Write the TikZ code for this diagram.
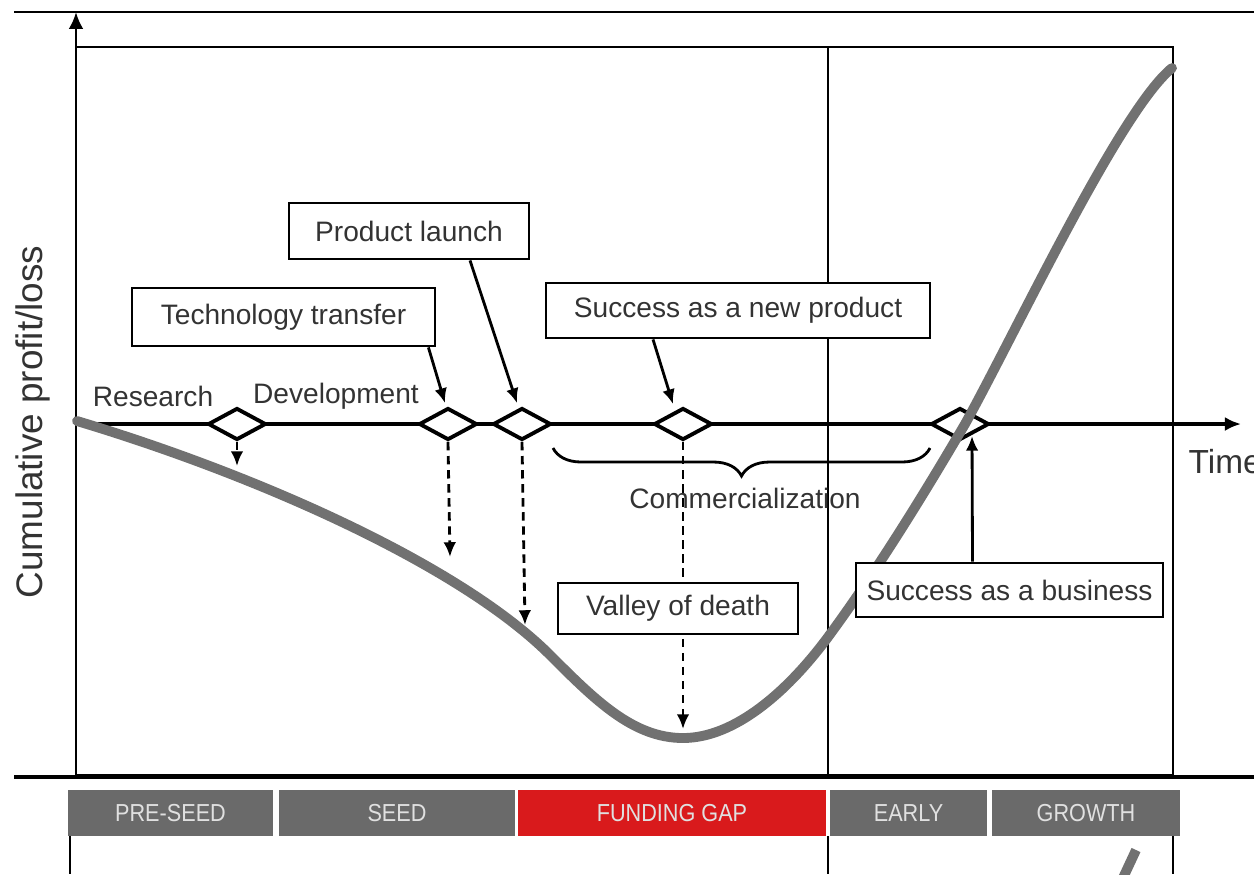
\documentclass[tikz,border=0pt]{standalone}
\usepackage{fontspec}
\setmainfont{Liberation Sans}
\newfontfamily\stagefont[FakeStretch=0.88]{Liberation Sans}
\usepackage{xcolor}
\usepackage{tikz}
\usetikzlibrary{arrows,arrows.meta}
\usetikzlibrary{shapes,positioning,calc,decorations.pathreplacing}
\definecolor{StageGray}{HTML}{6A6A6A}
\definecolor{GapRed}{HTML}{D91A1C}
\definecolor{CurveGray}{HTML}{717171}

\begin{document}
\begin{tikzpicture}[>={Latex[length=4.2pt,width=3.6pt]},
		labelbox/.style={draw, fill=white, line width=0.8pt, inner sep=0pt, text=black!80, font=\fontsize{8}{9.6}\selectfont},
		milestone/.style={diamond, draw, fill=white, line width=1.1pt, minimum width=0.58cm, minimum height=0.32cm, inner sep=0pt},
		stage/.style={fill=StageGray, minimum height=0.46cm, inner sep=0pt, text=white!88!black, font=\stagefont\fontsize{7}{8.4}\selectfont},
		dasharrow/.style={->, line width=0.8pt, dash pattern=on 2.4pt off 1.6pt},
		plain/.style={text=black!80, font=\fontsize{8}{9.6}\selectfont}]
			\useasboundingbox (0,0) rectangle (12.54,-8.74);
			% frame and axes
			\draw[line width=0.8pt] (0.14,-0.12) -- (12.54,-0.12);
			\draw[line width=0.8pt] (0.76,-0.47) rectangle (11.73,-7.75);
			\draw[line width=0.7pt] (8.28,-0.47) -- (8.28,-7.75);
			\draw[line width=1.3pt] (0.14,-7.77) -- (12.54,-7.77);
			\draw[-{Latex[length=4.8pt,width=4.2pt]}, line width=0.8pt] (0.76,-7.75) -- (0.76,-0.12);
			\draw[-{Latex[length=4.6pt,width=4pt]}, line width=0.9pt] (0.76,-4.24) -- (12.41,-4.24);
			\node[rotate=90, text=black!80, font=\fontsize{10.5}{12}\selectfont] (ylab) at (0.33,-4.22) {Cumulative profit/loss};
			\node[anchor=west, inner sep=0pt, text=black!80, font=\fontsize{9.5}{11}\selectfont] (time) at (11.88,-4.62) {Time};
			\node[plain] (research) at (1.53,-3.96) {Research};
			\node[plain] (develop) at (3.36,-3.96) {Development};
			% milestones
			\node[milestone] (d1) at (2.37,-4.24) {};
			\node[milestone] (d2) at (4.48,-4.24) {};
			\node[milestone] (d3) at (5.22,-4.24) {};
			\node[milestone] (d4) at (6.83,-4.24) {};
			\node[milestone] (d5) at (9.60,-4.24) {};
			% cumulative curve
			\draw[CurveGray, line width=2.8pt, line cap=round] (0.77,-4.21) .. controls (2.57,-4.75) and (4.6,-5.65) .. (5.5,-6.55)
				.. controls (5.95,-7.0) and (6.33,-7.38) .. (6.83,-7.38)
				.. controls (7.35,-7.38) and (7.88,-6.91) .. (8.28,-6.37)
				.. controls (8.73,-5.76) and (9.2,-5.01) .. (9.65,-4.24)
				.. controls (10.15,-3.34) and (11.2,-1.1) .. (11.72,-0.68);
			% dashed drops
			\coordinate (c1) at (2.37,-4.66);
			\coordinate (c2) at (4.50,-5.57);
			\coordinate (c3) at (5.25,-6.25);
			\coordinate (c4) at (6.83,-7.29);
			\draw[dasharrow] (d1.south) -- (c1);
			\draw[dasharrow] (d2.south) -- (c2);
			\draw[dasharrow] (d3.south) -- (c3);
			\draw[dasharrow] (d4.south) -- (c4);
			\draw[decorate, decoration={brace, mirror, amplitude=0.28cm}, line width=0.8pt] (5.53,-4.48) -- (9.30,-4.48);
			\node[plain] (comm) at (7.45,-4.98) {Commercialization};
			% labels
			\node[labelbox, minimum width=3.03cm, minimum height=0.58cm] (tt) at (2.835,-3.17) {Technology transfer};
			\node[labelbox, minimum width=2.40cm, minimum height=0.56cm] (pl) at (4.09,-2.31) {Product launch};
			\node[labelbox, minimum width=3.84cm, minimum height=0.55cm] (snp) at (7.38,-3.105) {Success as a new product};
			\node[labelbox, minimum width=2.40cm, minimum height=0.51cm] (vd) at (6.78,-6.085) {Valley of death};
			\node[labelbox, minimum width=3.07cm, minimum height=0.54cm] (sb) at (10.095,-5.90) {Success as a business};
			\draw[->, line width=0.8pt] ($(tt.south east)+(-0.08,0)$) -- ($(d2.north)+(-0.03,0.03)$);
			\draw[->, line width=0.8pt] ($(pl.south)+(0.61,0)$) -- ($(d3.north)+(-0.05,0.03)$);
			\draw[->, line width=0.8pt] ($(snp.south)+(-0.85,0)$) -- ($(d4.north)+(-0.10,0.02)$);
			\draw[->, line width=0.8pt] ($(sb.north)+(-0.37,0)$) -- ($(d5.south)+(0.12,0.06)$);
			% funding stages
			\node[stage, minimum width=2.05cm] (preseed) at (1.705,-8.13) {PRE-SEED};
			\node[stage, minimum width=2.36cm] (seed) at (3.97,-8.13) {SEED};
			\node[stage, fill=GapRed, minimum width=3.08cm] (gap) at (6.72,-8.13) {FUNDING GAP};
			\node[stage, minimum width=1.57cm] (early) at (9.085,-8.13) {EARLY};
			\node[stage, minimum width=1.88cm] (growth) at (10.86,-8.13) {GROWTH};
			\draw[line width=0.7pt] (0.70,-8.36) -- (0.70,-8.74);
			\draw[line width=0.7pt] (8.28,-8.36) -- (8.28,-8.74);
			\draw[line width=0.7pt] (11.73,-8.36) -- (11.73,-8.74);
			\draw[CurveGray, line width=2.8pt] (11.22,-8.80) -- (11.36,-8.50);
		\end{tikzpicture}
\end{document}
